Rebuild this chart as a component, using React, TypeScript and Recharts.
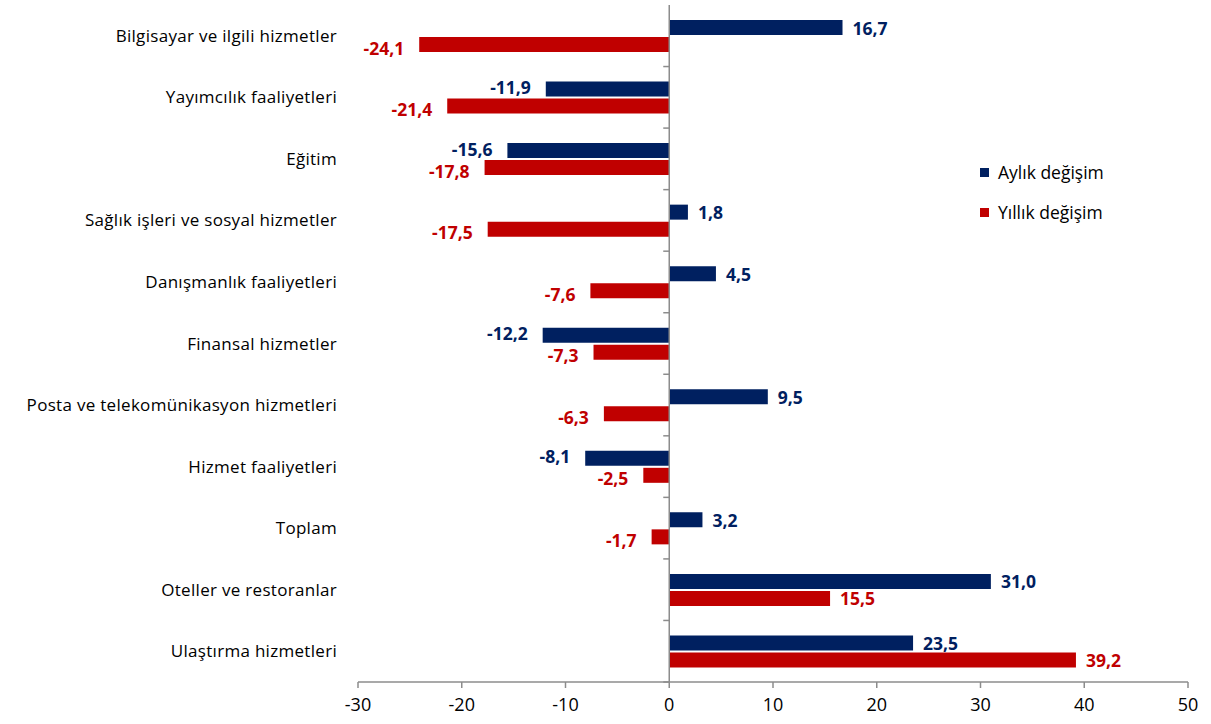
import React from 'react';
import { BarChart, Bar, XAxis, YAxis, ReferenceLine, LabelList } from 'recharts';

const categories = [
  'Bilgisayar ve ilgili hizmetler',
  'Yayımcılık faaliyetleri',
  'Eğitim',
  'Sağlık işleri ve sosyal hizmetler',
  'Danışmanlık faaliyetleri',
  'Finansal hizmetler',
  'Posta ve telekomünikasyon hizmetleri',
  'Hizmet faaliyetleri',
  'Toplam',
  'Oteller ve restoranlar',
  'Ulaştırma hizmetleri',
];
const aylik = [16.7, -11.9, -15.6, 1.8, 4.5, -12.2, 9.5, -8.1, 3.2, 31.0, 23.5];
const yillik = [-24.1, -21.4, -17.8, -17.5, -7.6, -7.3, -6.3, -2.5, -1.7, 15.5, 39.2];
const xTicks = [-30, -20, -10, 0, 10, 20, 30, 40, 50];
const seriesNames = ['Aylık değişim', 'Yıllık değişim'];

const BLUE = '#002060';
const RED = '#C00000';
const GRAY = '#8c8c8c';
const FONT = '"Open Sans", sans-serif';

const data = categories.map((name, i) => ({ name, aylik: aylik[i], yillik: yillik[i] }));

const fmt = (v: number) => v.toFixed(1).replace('.', ',');

const makeLabel = (color: string, dyNeg: number) => (props: any) => {
  const { x, y, width, height, value } = props;
  const end = value >= 0 ? Math.max(x, x + width) : Math.min(x, x + width);
  const pos = value >= 0;
  return (
    <text
      x={pos ? end + 10 : end - 15}
      y={y + height / 2 + (pos ? 0 : dyNeg)}
      textAnchor={pos ? 'start' : 'end'}
      dominantBaseline="central"
      fill={color}
      fontFamily={FONT}
      fontWeight={700}
      fontSize={17.5}
    >
      {fmt(value)}
    </text>
  );
};

const ZeroLine = (props: any) => {
  const { x1, y1, y2 } = props;
  const n = categories.length;
  const step = (y2 - y1) / n;
  const ticks = [];
  for (let i = 0; i < n; i++) {
    const ty = y1 + i * step;
    ticks.push(<line key={i} x1={x1 - 6} x2={x1} y1={ty} y2={ty} stroke={GRAY} strokeWidth={1.5} />);
  }
  return (
    <g>
      <line x1={x1} x2={x1} y1={y1} y2={y2} stroke={GRAY} strokeWidth={1.5} />
      {ticks}
    </g>
  );
};

const LegendBox = () => (
  <div style={{ position: 'absolute', left: 980, top: 152, fontFamily: FONT, fontSize: 17.5, color: '#000' }}>
    {seriesNames.map((label, i) => (
      <div key={label} style={{ display: 'flex', alignItems: 'center', height: 40 }}>
        <span style={{ width: 9, height: 9, background: i === 0 ? BLUE : RED, marginRight: 9, display: 'inline-block' }} />
        {label}
      </div>
    ))}
  </div>
);

export default function App() {
  return (
    <div style={{ position: 'absolute', left: 0, top: 0, background: '#fff' }}>
      <BarChart
        width={1211}
        height={724}
        data={data}
        layout="vertical"
        margin={{ top: 5, right: 23, bottom: 2, left: 0 }}
        barSize={15}
        barGap={2}
      >
        <XAxis
          type="number"
          domain={[-30, 50]}
          ticks={xTicks}
          interval={0}
          axisLine={{ stroke: GRAY, strokeWidth: 1.5 }}
          tickLine={{ stroke: GRAY, strokeWidth: 1.5 }}
          tickSize={6}
          tickMargin={10}
          tick={{ fill: '#000', fontSize: 18, fontFamily: FONT }}
          height={40}
        />
        <YAxis
          type="category"
          dataKey="name"
          width={358}
          axisLine={false}
          tickLine={false}
          tickMargin={15}
          interval={0}
          tick={{ fill: '#000', fontSize: 17, fontFamily: FONT, letterSpacing: 0.3 }}
        />
        <Bar dataKey="aylik" name={seriesNames[0]} fill={BLUE} isAnimationActive={false}>
          <LabelList dataKey="aylik" content={makeLabel(BLUE, -2)} />
        </Bar>
        <Bar dataKey="yillik" name={seriesNames[1]} fill={RED} isAnimationActive={false}>
          <LabelList dataKey="yillik" content={makeLabel(RED, 3)} />
        </Bar>
        <ReferenceLine x={0} shape={<ZeroLine />} />
      </BarChart>
      <LegendBox />
    </div>
  );
}
